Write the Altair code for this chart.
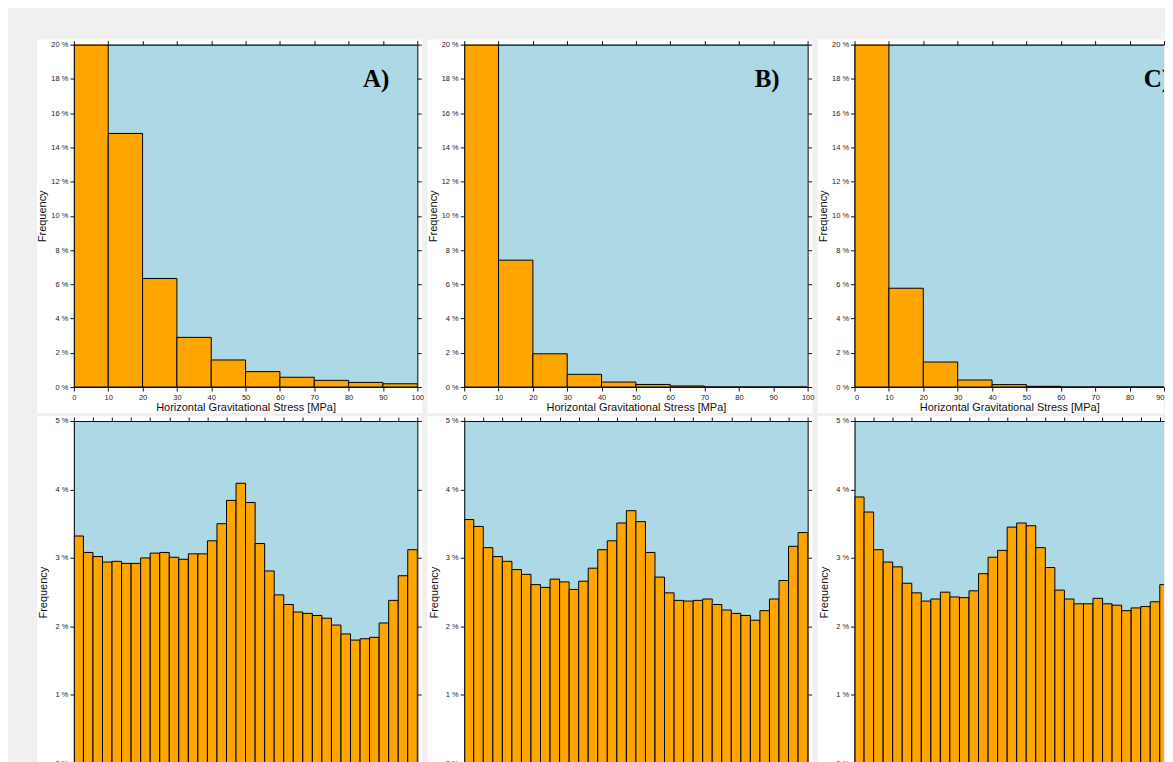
import altair as alt
import pandas as pd

PANEL_LABELS = ["A)", "B)", "C)"]

# Top row: horizontal gravitational stress histograms (percent per 10 MPa bin)
STRESS_EDGES = [0, 10, 20, 30, 40, 50, 60, 70, 80, 90, 100]
STRESS_FREQ_A = [72.06, 14.81, 6.34, 2.90, 1.58, 0.90, 0.57, 0.39, 0.27, 0.19]
STRESS_FREQ_B = [89.44, 7.41, 1.94, 0.74, 0.29, 0.15, 0.06, 0.0, 0.0, 0.0]
STRESS_FREQ_C = [92.18, 5.77, 1.46, 0.41, 0.14, 0.04, 0.0, 0.0, 0.0, 0.0]
STRESS_TICKS = [0, 10, 20, 30, 40, 50, 60, 70, 80, 90, 100]
STRESS_FREQ_TICKS = [0, 2, 4, 6, 8, 10, 12, 14, 16, 18, 20]

# Bottom row: azimuth histograms (percent per 5 degree bin, 0-180)
AZ_EDGES = list(range(0, 185, 5))
AZ_FREQ_A = [3.32, 3.08, 3.02, 2.94, 2.95, 2.92, 2.92, 3.00, 3.07, 3.08,
             3.01, 2.98, 3.06, 3.06, 3.25, 3.50, 3.84, 4.09, 3.81, 3.21,
             2.81, 2.46, 2.32, 2.21, 2.19, 2.16, 2.12, 2.02, 1.89, 1.80,
             1.82, 1.84, 2.05, 2.38, 2.74, 3.12]
AZ_FREQ_B = [3.56, 3.46, 3.15, 3.02, 2.95, 2.83, 2.76, 2.61, 2.57, 2.69,
             2.65, 2.54, 2.66, 2.85, 3.12, 3.25, 3.51, 3.69, 3.53, 3.08,
             2.72, 2.49, 2.38, 2.37, 2.38, 2.40, 2.32, 2.24, 2.19, 2.16,
             2.09, 2.23, 2.40, 2.67, 3.17, 3.37]
AZ_FREQ_C = [3.89, 3.67, 3.12, 2.94, 2.87, 2.63, 2.49, 2.37, 2.40, 2.50,
             2.43, 2.42, 2.52, 2.77, 3.01, 3.11, 3.45, 3.51, 3.47, 3.15,
             2.86, 2.53, 2.40, 2.33, 2.33, 2.41, 2.33, 2.31, 2.23, 2.27,
             2.29, 2.36, 2.61, 2.91, 3.30, 3.62]
AZ_TICKS = list(range(0, 181, 10))
AZ_LABEL_TICKS = [0, 30, 60, 90, 120, 150, 180]
AZ_FREQ_TICKS = [0, 1, 2, 3, 4, 5]

X_TITLE = "Horizontal Gravitational Stress [MPa]"
Y_TITLE = "Frequency"

ORANGE = "#FFA500"
LIGHTBLUE = "#ADD8E6"
PAGE_GRAY = "#f0f0f0"
FONT = "Liberation Sans"

W_FULL = 344          # full panel plot width
W_CUT = 310           # visible part of the right-hand (cut) column
H = 343
COL_GAP = 47
ROW_GAP = 34


def base_axis():
    return dict(
        zindex=1, grid=False, domainColor="#111111", domainWidth=1.1,
        tickColor="#111111", tickSize=4, tickWidth=1,
        labelFont=FONT, labelFontSize=7.5, labelColor="#222222",
        labelPadding=2, labelOverlap=False,
    )


def panel(values, edges, xdom, xticks, xlabel_ticks, ydom, yticks, W,
          ytitle_x, cut=False, label=None, xtitle=None, flush=False):
    df = pd.DataFrame({
        "start": edges[:-1],
        "end": edges[1:],
        "freq": values,
        "base": [0] * len(values),
    })
    corners = pd.DataFrame({"start": xdom, "freq": ydom})
    xs = alt.Scale(domain=xdom, nice=False, zero=False)
    ys = alt.Scale(domain=ydom, nice=False, zero=False)
    one = alt.Data(values=[{"k": 0}])

    card = alt.Chart(one).mark_rect(fill="white").encode(
        x=alt.value(-37), x2=alt.value(W if cut else W + 5),
        y=alt.value(-5), y2=alt.value(H + 26),
    )
    bg = alt.Chart(one).mark_rect(fill=LIGHTBLUE).encode(
        x=alt.value(0), x2=alt.value(W), y=alt.value(0), y2=alt.value(H)
    )

    xkw = base_axis()
    xkw.update(labelFlush=flush)
    if xtitle:
        xkw.update(title=xtitle, titleY=24, titleBaseline="alphabetic",
                   titleFont=FONT, titleFontSize=11, titleFontWeight="normal",
                   titleColor="#111111")
    else:
        xkw.update(title=None)
    ykw = base_axis()
    ykw.update(labelFlush=False)

    bars = alt.Chart(df).mark_rect(
        fill=ORANGE, stroke="black", strokeWidth=1, clip=True
    ).encode(
        x=alt.X("start:Q", scale=xs,
                axis=alt.Axis(orient="bottom", values=xlabel_ticks, **xkw)),
        x2="end:Q",
        y=alt.Y("freq:Q", scale=ys,
                axis=alt.Axis(orient="left", values=yticks,
                              labelExpr="datum.value + ' %'",
                              title=Y_TITLE, titleX=ytitle_x, titleY=H / 2,
                              titleAngle=270, titleAlign="center",
                              titleBaseline="alphabetic", titleFont=FONT,
                              titleFontSize=11, titleFontWeight="normal",
                              titleColor="#111111", **ykw)),
        y2="base:Q",
    )

    layers = [card, bg, bars]

    tkw = base_axis()
    tkw.update(labels=False, title=None)
    if cut:
        frame = alt.Chart(corners).mark_point(opacity=0, size=1, clip=True).encode(
            x=alt.X("start:Q", scale=xs,
                    axis=alt.Axis(orient="top", values=xticks, **tkw)),
        )
        layers.append(frame)
        res = dict(x="independent")
    else:
        frame = alt.Chart(corners).mark_point(opacity=0, size=1, clip=True).encode(
            x=alt.X("start:Q", scale=xs,
                    axis=alt.Axis(orient="top", values=xticks, **tkw)),
            y=alt.Y("freq:Q", scale=ys,
                    axis=alt.Axis(orient="right", values=yticks, **tkw)),
        )
        layers.append(frame)
        res = dict(x="independent", y="independent")

    if label:
        txt = alt.Chart(alt.Data(values=[{"lab": label}])).mark_text(
            font="Liberation Serif", fontWeight="bold", fontSize=25,
            align="right", baseline="alphabetic", color="black", clip=True
        ).encode(x=alt.value(316), y=alt.value(42), text="lab:N")
        layers.append(txt)

    return alt.layer(*layers).resolve_axis(**res).properties(width=W, height=H)


top_freqs = [STRESS_FREQ_A, STRESS_FREQ_B, STRESS_FREQ_C]
bot_freqs = [AZ_FREQ_A, AZ_FREQ_B, AZ_FREQ_C]

panels = []
for i, (f, lab) in enumerate(zip(top_freqs, PANEL_LABELS)):
    cut = i == 2
    W = W_CUT if cut else W_FULL
    xmax = 100 * W / W_FULL if not cut else 90
    xt = [t for t in STRESS_TICKS if t <= xmax]
    panels.append(panel(f, STRESS_EDGES, [0, xmax], xt, xt, [0, 20],
                        STRESS_FREQ_TICKS, W, -28, cut=cut, label=lab,
                        xtitle=X_TITLE, flush=cut))
for i, f in enumerate(bot_freqs):
    cut = i == 2
    W = W_CUT if cut else W_FULL
    xmax = 180 * W / W_FULL
    xt = [t for t in AZ_TICKS if t <= xmax]
    xl = [t for t in AZ_LABEL_TICKS if t <= xmax - 10]
    panels.append(panel(f, AZ_EDGES, [0, xmax], xt, xl, [0, 5],
                        AZ_FREQ_TICKS, W, -27, cut=cut))

chart = alt.concat(
    *panels, columns=3, spacing={"row": ROW_GAP, "column": COL_GAP},
    bounds="flush", align="each"
).configure(
    background=PAGE_GRAY,
    padding={"left": 28, "top": 30, "right": 0, "bottom": 0},
).configure_view(stroke="transparent", fill="transparent")

chart.save("out.html", embed_options={"renderer": "svg", "actions": False})
